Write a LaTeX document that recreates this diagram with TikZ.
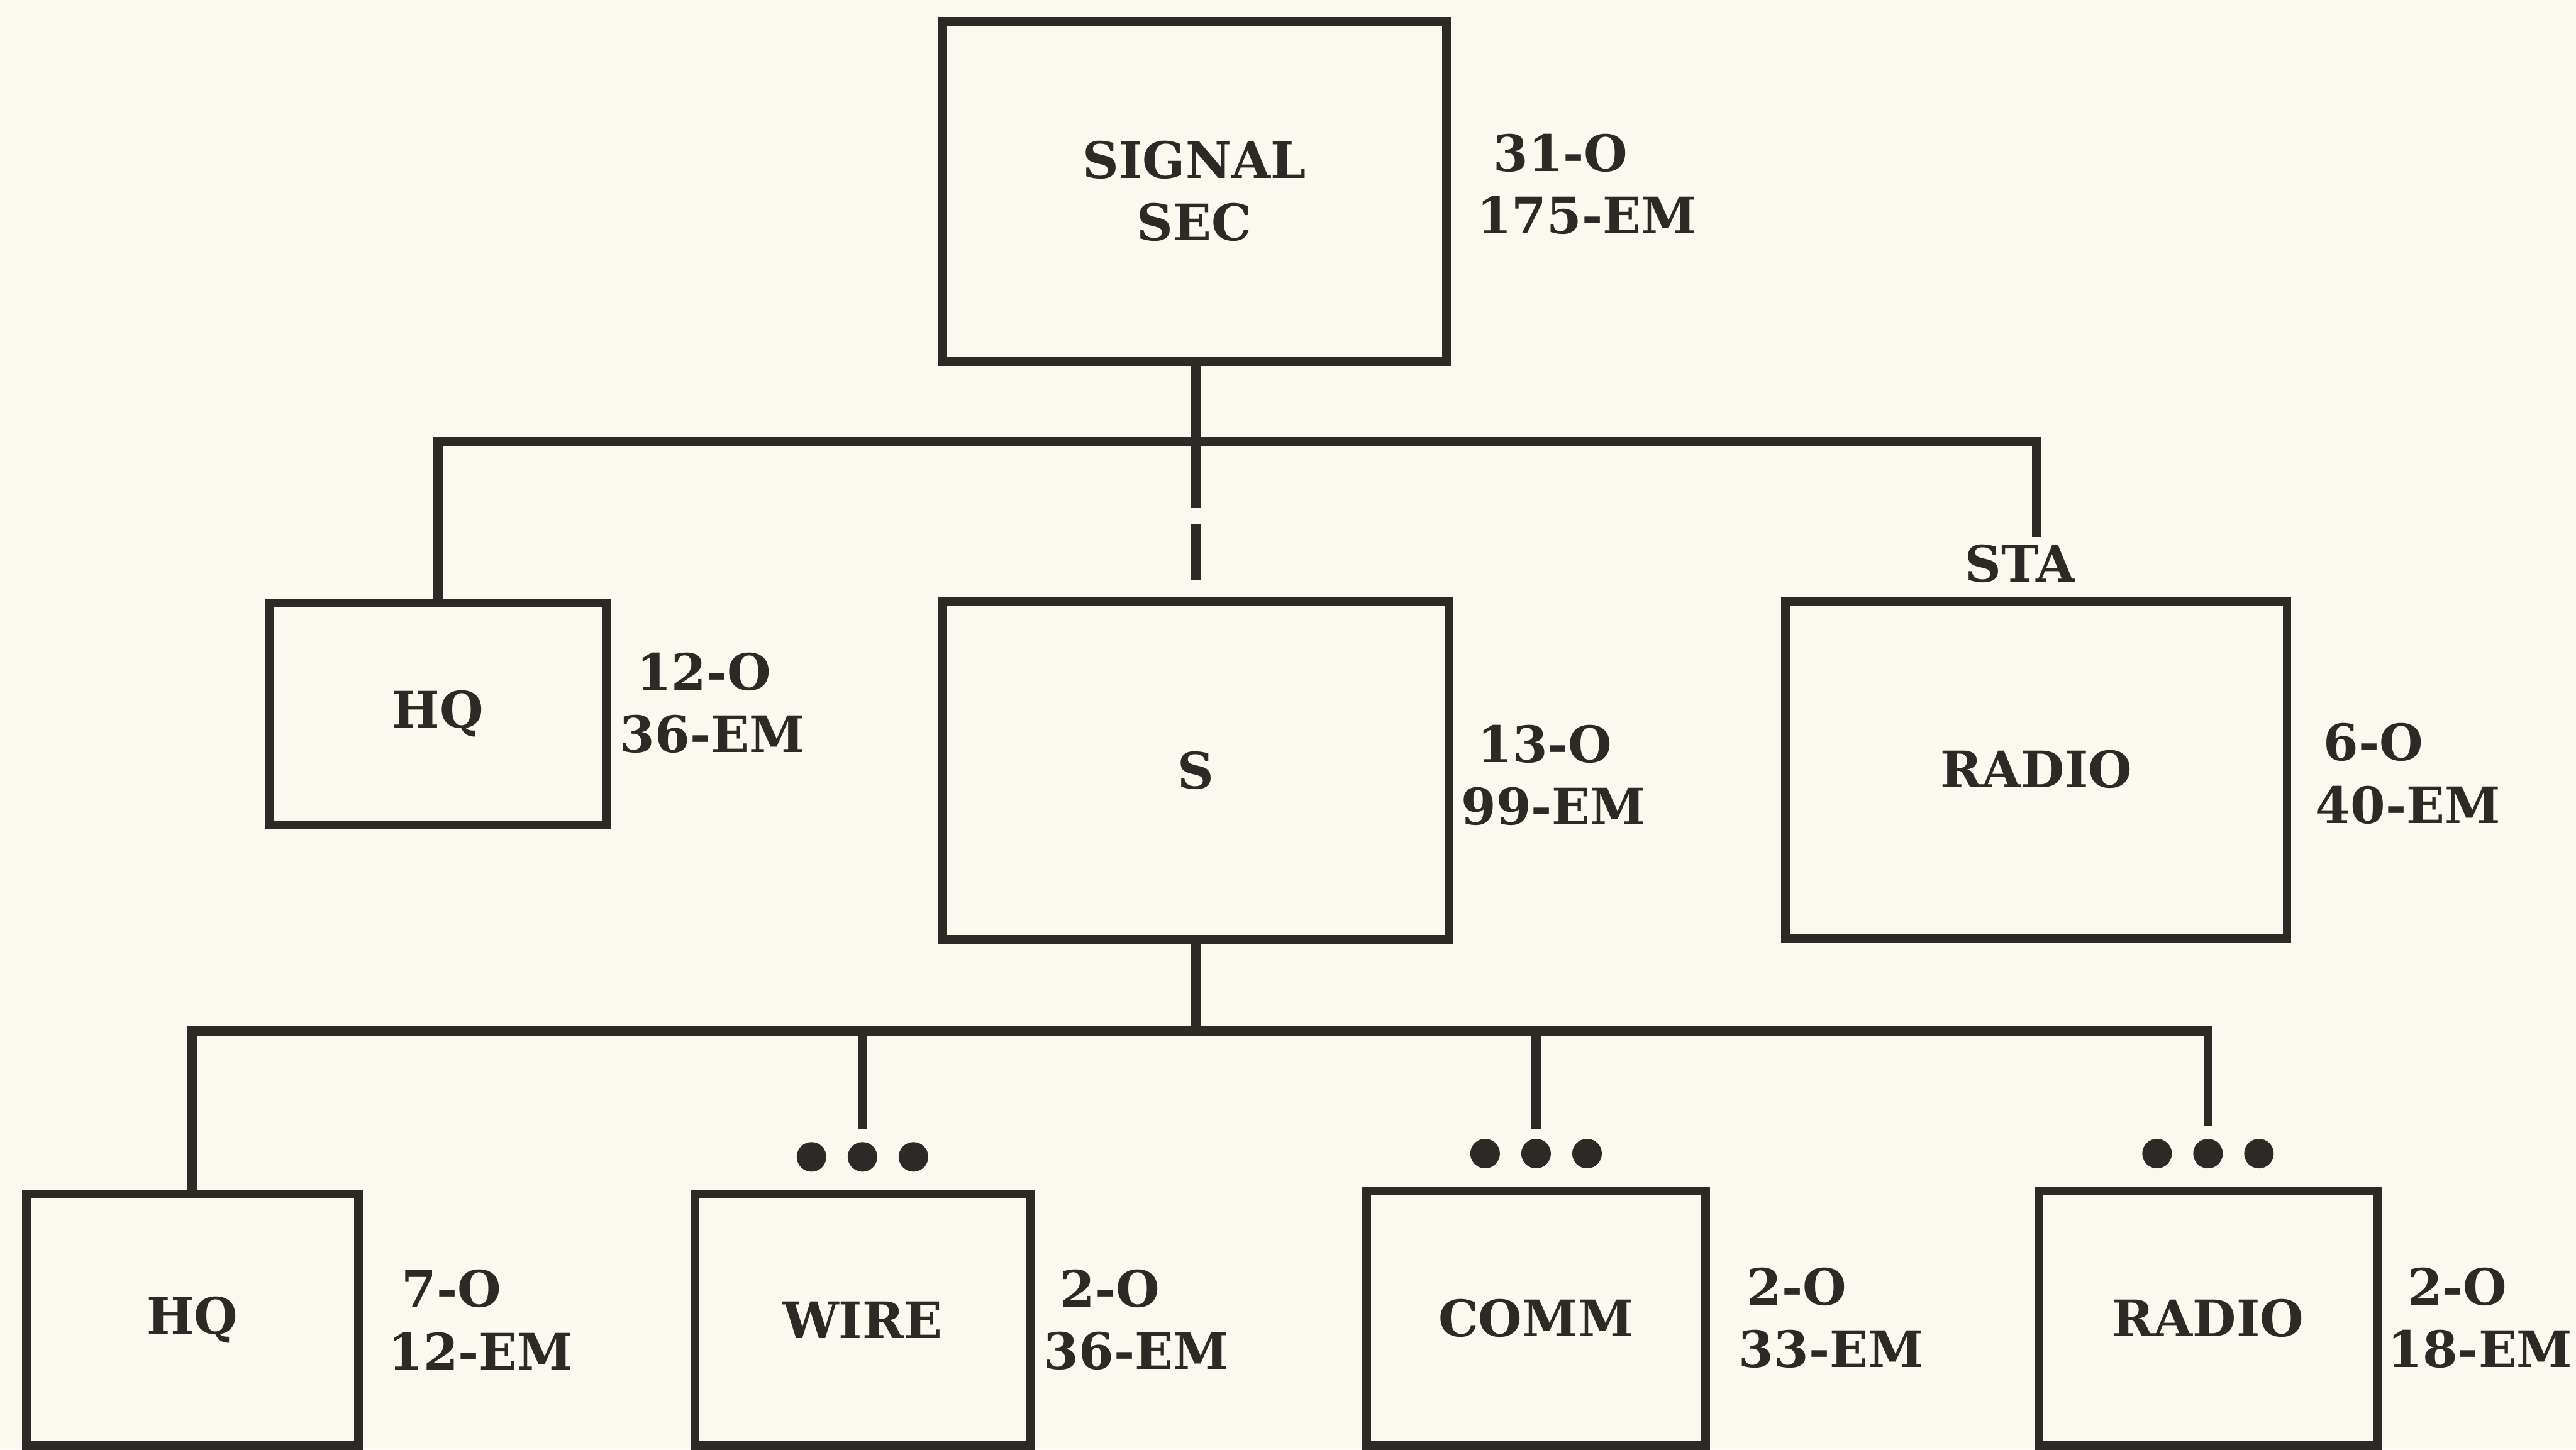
\documentclass[tikz,border=0pt]{standalone}
\usepackage{fontspec}
\setmainfont{DejaVu Serif}
\usetikzlibrary{positioning,calc}
\definecolor{paperCream}{HTML}{FBF8EF}
\definecolor{inkDark}{HTML}{2B2A26}

\begin{document}
\begin{tikzpicture}[x=0.01cm, y=-0.01cm, line join=miter,
          unit/.style={draw=inkDark, line width=1.5pt, inner sep=0pt, text=inkDark, align=center, font=\bfseries\fontsize{8.7}{10.8}\selectfont},
          tally/.style={inner sep=0pt, text=inkDark, align=left, anchor=west, font=\bfseries\fontsize{8.7}{10.8}\selectfont},
          tag/.style={inner sep=0pt, text=inkDark, font=\bfseries\fontsize{8.7}{10.8}\selectfont},
          link/.style={draw=inkDark, line width=1.6pt},
          bead/.style={fill=inkDark}]
        \fill[paperCream] (0,0) rectangle (1568,882);
        % top level
        \node[unit, minimum width=3.07cm, minimum height=2.07cm] (sig) at (727,116.5) {SIGNAL\\SEC};
        % second level
        \node[unit, minimum width=2.05cm, minimum height=1.35cm] (hqa) at (266.5,434.5) {HQ};
        \node[unit, minimum width=3.08cm, minimum height=2.06cm] (sec) at (728,469) {S};
        \node[unit, minimum width=3.05cm, minimum height=2.05cm] (sta) at (1239.5,468.5) {RADIO};
        % third level
        \node[unit, minimum width=2.02cm, minimum height=1.53cm] (hqb) at (117,803.5) {HQ};
        \node[unit, minimum width=2.04cm, minimum height=1.53cm] (wire) at (525,803.5) {WIRE};
        \node[unit, minimum width=2.06cm, minimum height=1.55cm] (comm) at (935,802.5) {COMM};
        \node[unit, minimum width=2.06cm, minimum height=1.55cm] (radb) at (1344,802.5) {RADIO};
        % strengths
        \node[tally, right=0.15cm of sig, yshift=0.045cm] (sigt) {\hspace{0.1cm}31-O\\175-EM};
        \node[tally, right=0.05cm of hqa, yshift=0.065cm] (hqat) {\hspace{0.1cm}12-O\\36-EM};
        \node[tally, right=0.04cm of sec, yshift=-0.03cm] (sect) {\hspace{0.1cm}13-O\\99-EM};
        \node[tally, right=0.14cm of sta, yshift=-0.025cm] (stat) {\hspace{0.05cm}6-O\\40-EM};
        \node[tally, right=0.15cm of hqb] (hqbt) {\hspace{0.08cm}7-O\\12-EM};
        \node[tally, right=0.05cm of wire] (wiret) {\hspace{0.1cm}2-O\\36-EM};
        \node[tally, right=0.17cm of comm] (commt) {\hspace{0.05cm}2-O\\33-EM};
        \node[tally, right=0.03cm of radb] (radbt) {\hspace{0.12cm}2-O\\18-EM};
        \node[tag, above=0.08cm of sta, xshift=-0.1cm] (stal) {STA};
        % upper bracket
        \coordinate (bar1) at ($(sig.south)+(0,-0.46cm)$);
        \draw[link] (sig.south -| sec.north) -- ($(sec.north)+(0,0.54cm)$);
        \draw[link] ($(sec.north)+(0,0.44cm)$) -- ($(sec.north)+(0,0.1cm)$);
        \draw[link] (hqa.north) -- (hqa.north |- bar1) -- (sta.north |- bar1) -- ++(0,-0.58cm);
        % lower bracket
        \coordinate (bar2) at ($(sec.south)+(0,-0.53cm)$);
        \draw[link] (sec.south) -- (bar2);
        \draw[link] (hqb.north) -- (hqb.north |- bar2) -- (radb.north |- bar2) -- ($(radb.north)+(0,0.37cm)$);
        \draw[link] (wire.north |- bar2) -- ($(wire.north)+(0,0.37cm)$);
        \draw[link] (comm.north |- bar2) -- ($(comm.north)+(0,0.35cm)$);
        \foreach \b in {wire,comm,radb}
          \foreach \dx in {-0.31cm,0cm,0.31cm}
            \fill[bead] ($(\b.north)+(\dx,0.2cm)$) circle (0.09cm);
      \end{tikzpicture}
\end{document}
